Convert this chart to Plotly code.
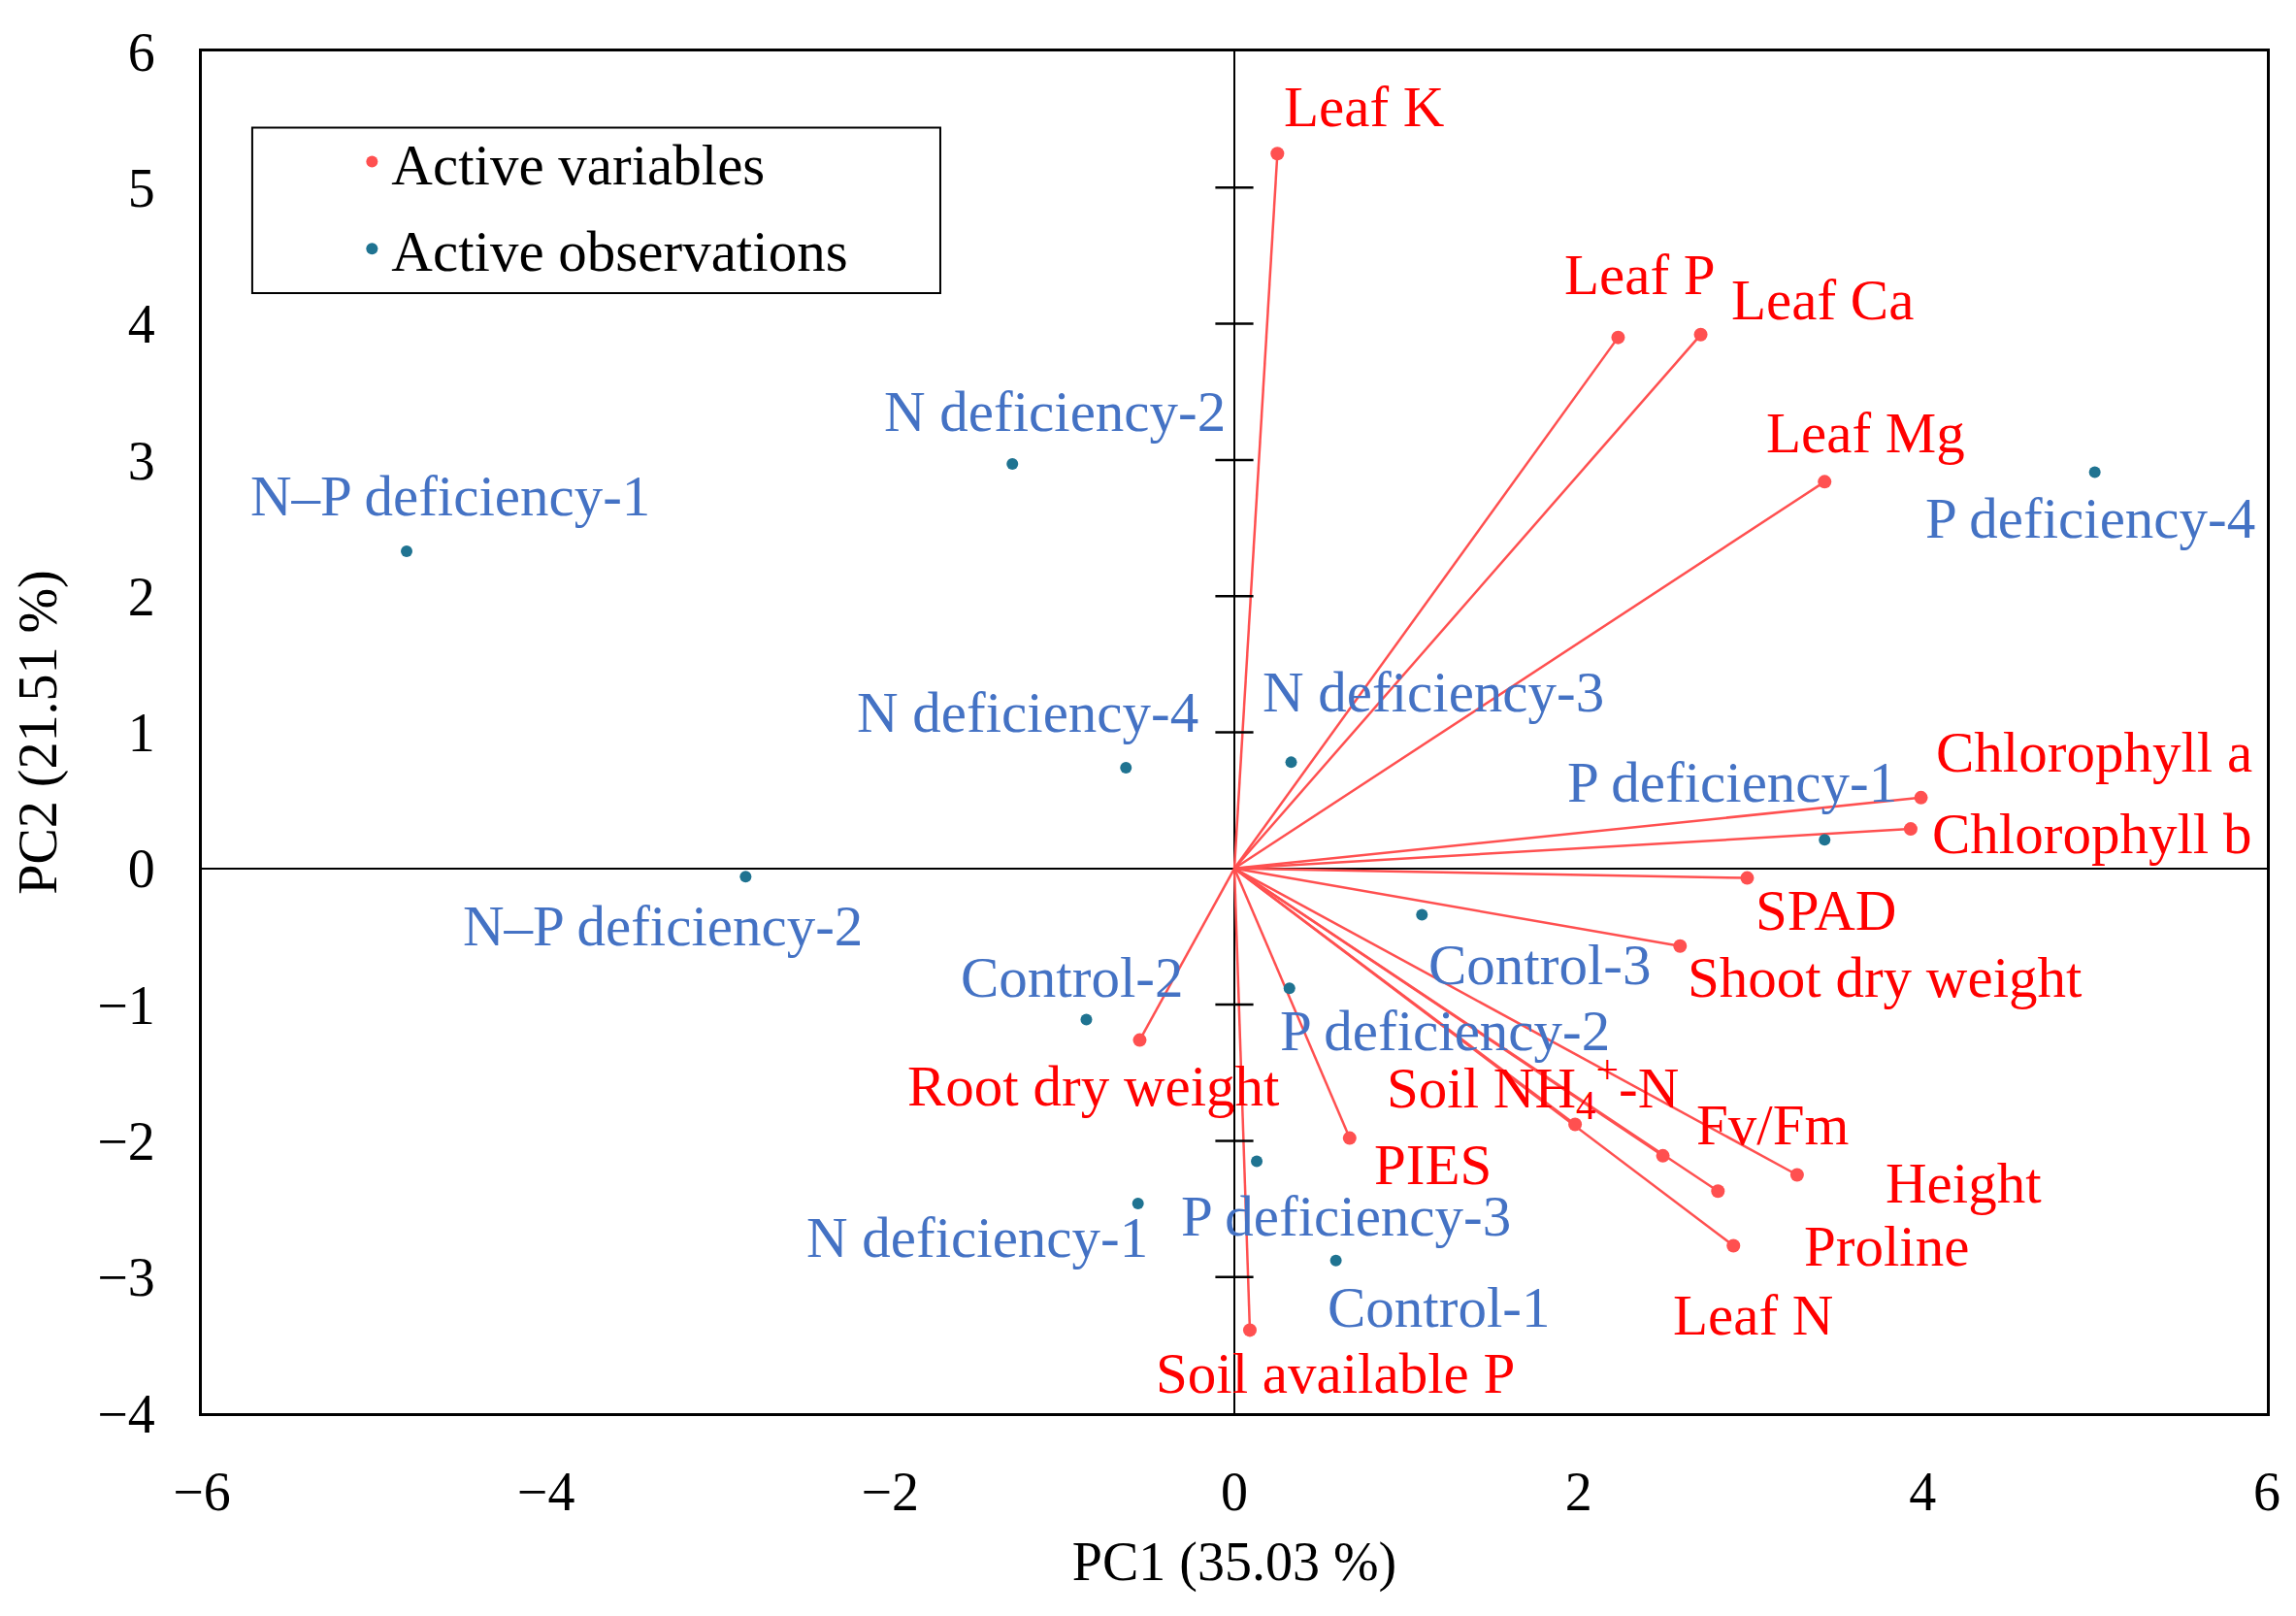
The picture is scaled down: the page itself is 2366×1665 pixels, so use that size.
import plotly.graph_objects as go

# variables (red) - loadings drawn as vectors from the origin
var_names = ["Leaf K", "Leaf P", "Leaf Ca", "Leaf Mg", "Chlorophyll a", "Chlorophyll b",
             "SPAD", "Shoot dry weight", "Soil NH<sub>4</sub><sup>+</sup>-N", "Fv/Fm",
             "Height", "Proline", "Leaf N", "Root dry weight", "PIES", "Soil available P"]
var_pc1 = [0.25, 2.23, 2.71, 3.43, 3.99, 3.93, 2.98, 2.59, 1.98, 2.49, 3.27, 2.81, 2.90, -0.55, 0.67, 0.09]
var_pc2 = [5.25, 3.90, 3.92, 2.84, 0.52, 0.29, -0.07, -0.57, -1.88, -2.11, -2.25, -2.37, -2.77, -1.26, -1.98, -3.39]

# observations (teal dots)
obs_names = ["N\u2013P deficiency-1", "N deficiency-2", "N deficiency-4", "N deficiency-3",
             "P deficiency-4", "P deficiency-1", "N\u2013P deficiency-2", "Control-2", "Control-3",
             "P deficiency-2", "P deficiency-3", "N deficiency-1", "Control-1"]
obs_pc1 = [-4.81, -1.29, -0.63, 0.33, 5.00, 3.43, -2.84, -0.86, 1.09, 0.32, 0.13, -0.56, 0.59]
obs_pc2 = [2.33, 2.97, 0.74, 0.78, 2.91, 0.21, -0.06, -1.11, -0.34, -0.88, -2.15, -2.46, -2.88]

x_ticks = [-6, -4, -2, 0, 2, 4, 6]
y_ticks = [-4, -3, -2, -1, 0, 1, 2, 3, 4, 5, 6]

# label offsets in pixels (dx, dy up)
var_offsets = {
    "Leaf K": (89, 48), "Leaf P": (23, 65), "Leaf Ca": (125, 36), "Leaf Mg": (42, 50),
    "Chlorophyll a": (178, 47), "Chlorophyll b": (187, -5), "SPAD": (81, -33),
    "Shoot dry weight": (211, -32), "Soil NH<sub>4</sub><sup>+</sup>-N": (-44, 38),
    "Fv/Fm": (113, 32), "Height": (172, -9), "Proline": (174, -57), "Leaf N": (20, -72),
    "Root dry weight": (-47, -47), "PIES": (86, -27), "Soil available P": (88, -45),
}
obs_offsets = {
    "N\u2013P deficiency-1": (45, 57), "N deficiency-2": (44, 54), "N deficiency-4": (-101, 57),
    "N deficiency-3": (146, 72), "P deficiency-4": (-5, -47), "P deficiency-1": (-95, 59),
    "N\u2013P deficiency-2": (-85, -51), "Control-2": (-15, 44), "Control-3": (121, -51),
    "P deficiency-2": (160, -44), "P deficiency-3": (92, -57), "N deficiency-1": (-166, -35),
    "Control-1": (106, -48),
}

FONT = "Liberation Serif, Times New Roman, serif"
FS = 56      # ticks / axis titles
FS_LBL = 59  # point labels and legend
RED_TXT, RED_LINE, TEAL, BLUE_TXT = "#ff0000", "#ff5050", "#1f7391", "#4472c4"

fig = go.Figure()

# vectors
lx, ly = [], []
for x, y in zip(var_pc1, var_pc2):
    lx += [0, x, None]
    ly += [0, y, None]
fig.add_trace(go.Scatter(x=lx, y=ly, mode="lines", line=dict(color=RED_LINE, width=2.5),
                         showlegend=False, hoverinfo="skip"))

# tick marks on the vertical zero line
yt_inner = [t for t in y_ticks if t not in (y_ticks[0], y_ticks[-1], 0)]
fig.add_trace(go.Scatter(x=[0] * len(yt_inner), y=yt_inner, mode="markers",
                         marker=dict(symbol="line-ew", size=28, line=dict(color="black", width=2.5)),
                         showlegend=False, hoverinfo="skip"))

fig.add_trace(go.Scatter(x=var_pc1, y=var_pc2, mode="markers", name="Active variables",
                         legendgroup="v", marker=dict(color=RED_LINE, size=14), text=var_names))
fig.add_trace(go.Scatter(x=obs_pc1, y=obs_pc2, mode="markers", name="Active observations",
                         legendgroup="o", marker=dict(color=TEAL, size=12), text=obs_names))

annotations = []
for n, x, y in zip(var_names, var_pc1, var_pc2):
    dx, dy = var_offsets[n]
    annotations.append(dict(x=x, y=y, text=n, showarrow=False, xshift=dx, yshift=dy,
                            font=dict(color=RED_TXT, size=FS_LBL, family=FONT)))
for n, x, y in zip(obs_names, obs_pc1, obs_pc2):
    dx, dy = obs_offsets[n]
    annotations.append(dict(x=x, y=y, text=n, showarrow=False, xshift=dx, yshift=dy,
                            font=dict(color=BLUE_TXT, size=FS_LBL, family=FONT)))

axis_common = dict(showgrid=False, showline=True, linecolor="black", linewidth=3, mirror=True,
                   zeroline=True, zerolinecolor="black", zerolinewidth=2,
                   ticks="", tickfont=dict(size=FS, family=FONT, color="black"))

fig.update_layout(
    width=2366, height=1665,
    margin=dict(l=208, r=30, t=53, b=209),
    paper_bgcolor="white", plot_bgcolor="white",
    font=dict(family=FONT, size=FS, color="black"),
    annotations=annotations,
    xaxis=dict(range=[x_ticks[0], x_ticks[-1]], tickvals=x_ticks, ticklabelstandoff=30,
               title=dict(text="PC1 (35.03 %)", font=dict(size=FS, family=FONT), standoff=22),
               **axis_common),
    yaxis=dict(range=[y_ticks[0], y_ticks[-1]], tickvals=y_ticks, ticklabelstandoff=34,
               title=dict(text="PC2 (21.51 %)", font=dict(size=FS, family=FONT), standoff=24),
               **axis_common),
    legend=dict(x=0.073, y=0.951, xanchor="left", yanchor="top", bgcolor="rgba(0,0,0,0)",
                borderwidth=0, font=dict(size=FS_LBL, family=FONT), itemsizing="constant",
                traceorder="grouped", tracegroupgap=10),
    shapes=[dict(type="rect", xref="paper", yref="paper", x0=0.0244, x1=0.3576,
                 y0=0.8225, y1=0.944, line=dict(color="black", width=2),
                 fillcolor="white", layer="below")],
)

fig.write_html("out.html", config={"displayModeBar": False},
               post_script="document.body.style.margin='0px';")
